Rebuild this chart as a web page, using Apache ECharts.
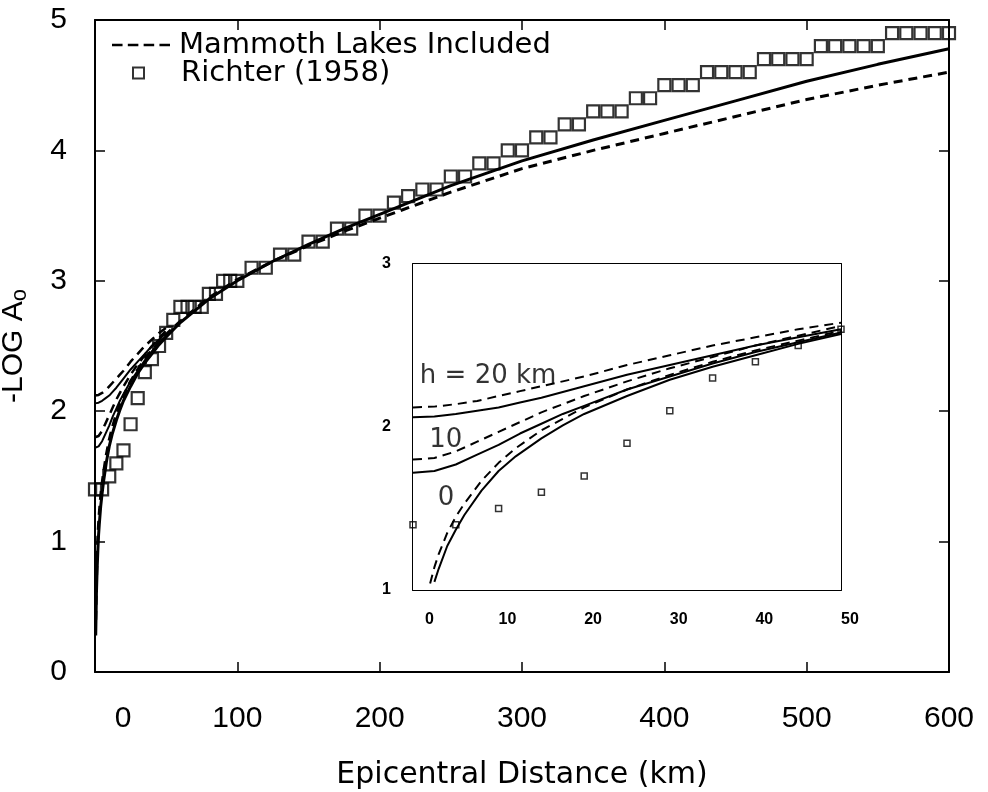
<!DOCTYPE html>
<html>
<head>
<meta charset="utf-8">
<script src="https://cdn.jsdelivr.net/npm/echarts@6/dist/echarts.min.js"></script>
<style>html,body{margin:0;padding:0;background:#fff;}#c{width:988px;height:792px;}</style>
</head>
<body>
<div id="c"></div>
<script>
// ---- Data ----
const richterDist = [0,5,10,15,20,25,30,35,40,45,50,55,60,65,70,75,80,85,90,95,100,110,120,130,140,150,160,170,180,190,200,210,220,230,240,250,260,270,280,290,300,310,320,330,340,350,360,370,380,390,400,410,420,430,440,450,460,470,480,490,500,510,520,530,540,550,560,570,580,590,600];
const richterVal  = [1.4,1.4,1.5,1.6,1.7,1.9,2.1,2.3,2.4,2.5,2.6,2.7,2.8,2.8,2.8,2.8,2.9,2.9,3.0,3.0,3.0,3.1,3.1,3.2,3.2,3.3,3.3,3.4,3.4,3.5,3.5,3.6,3.65,3.7,3.7,3.8,3.8,3.9,3.9,4.0,4.0,4.1,4.1,4.2,4.2,4.3,4.3,4.3,4.4,4.4,4.5,4.5,4.5,4.6,4.6,4.6,4.6,4.7,4.7,4.7,4.7,4.8,4.8,4.8,4.8,4.8,4.9,4.9,4.9,4.9,4.9];

// h = 0 km curves (full range)
const farDist   = [0.5,1,1.5,2,2.5,3,4,5,6,8,10,12,15,17.5,20,25,30,35,40,45,50,60,70,80,100,125,150,175,200,250,300,350,400,450,500,550,600];
const solidH0   = [0.28,0.60,0.79,0.93,1.05,1.13,1.27,1.37,1.46,1.61,1.73,1.82,1.93,2.01,2.08,2.19,2.29,2.37,2.44,2.51,2.57,2.68,2.77,2.86,3.00,3.15,3.28,3.40,3.51,3.73,3.92,4.08,4.23,4.38,4.53,4.66,4.78];
const dashedH0  = [0.40,0.70,0.90,1.04,1.14,1.22,1.35,1.45,1.53,1.67,1.78,1.87,1.98,2.05,2.12,2.23,2.32,2.40,2.47,2.53,2.59,2.69,2.78,2.87,3.01,3.15,3.27,3.38,3.48,3.68,3.86,4.00,4.13,4.26,4.39,4.50,4.60];

// h = 10 and 20 km curves (near field)
const nearDist  = [0,2.5,5,7.5,10,12.5,15,17.5,20,25,30,35,40,45,50];
const solidH10  = [1.72,1.73,1.77,1.83,1.89,1.96,2.02,2.08,2.13,2.23,2.31,2.39,2.46,2.52,2.58];
const dashedH10 = [1.80,1.81,1.85,1.91,1.97,2.03,2.09,2.14,2.19,2.28,2.36,2.43,2.50,2.56,2.62];
const solidH20  = [2.06,2.065,2.08,2.10,2.12,2.15,2.18,2.215,2.25,2.32,2.38,2.44,2.50,2.55,2.60];
const dashedH20 = [2.12,2.125,2.14,2.16,2.19,2.22,2.25,2.28,2.31,2.38,2.44,2.50,2.55,2.60,2.64];

// inset annotation labels: [distance, value, text]
const insetLabels = [[0.8,2.31,'h = 20 km'],[1.9,1.92,'10'],[2.9,1.56,'0']];

// ---- helpers ----
const zip = (xs, ys) => xs.map((x, i) => [x, ys[i]]);
const insetFilter = pts => pts.filter(p => p[0] <= 50 && p[1] >= 1.04);

const chart = echarts.init(document.getElementById('c'), null, {renderer: 'canvas'});
const FONT = 'Liberation Sans';
const BLACK = '#000';

function lineSeries(name, data, dashed, width, xi, yi, z) {
  return {
    name: name, type: 'line', data: data, xAxisIndex: xi, yAxisIndex: yi,
    showSymbol: false, symbol: 'none', smooth: false,
    itemStyle: {color: BLACK},
    lineStyle: {color: BLACK, width: width, type: dashed ? [9, 6] : 'solid'},
    z: z || 3, silent: true, animation: false
  };
}

const frameAxis = (extra) => Object.assign({
  type: 'value', splitLine: {show: false},
  axisLine: {show: true, onZero: false, lineStyle: {color: BLACK, width: 2}},
  axisTick: {show: true, inside: true, length: 10, lineStyle: {color: BLACK, width: 1.5}},
}, extra);

const insetTick = {show: true, inside: true, length: 9, lineStyle: {color: BLACK, width: 1.5}};
const legendText = (pad) => ({fontFamily: 'DejaVu Sans', fontSize: 29, lineHeight: 30, color: BLACK,
  rich: {t: {fontFamily: 'DejaVu Sans', fontSize: 29, lineHeight: 30, color: BLACK, padding: [0, 0, 0, pad]}}});

const option = {
  backgroundColor: '#fff',
  animation: false,
  grid: [
    {left: 95, top: 20, width: 854, height: 652, containLabel: false, outerBoundsMode: 'none'},
    {left: 413, top: 264, width: 428, height: 326, containLabel: false, outerBoundsMode: 'none',
     show: true, backgroundColor: '#fff', borderWidth: 0, z: 5}
  ],
  legend: [
    {
      left: 112, top: 30, padding: 0, itemWidth: 58, itemHeight: 3, selectedMode: false,
      icon: 'path://M0,0H10V2.5H0Z M15,0H25V2.5H15Z M30,0H40V2.5H30Z M45,0H55V2.5H45Z',
      formatter: n => '{t|' + n + '}', textStyle: legendText(4),
      data: ['Mammoth Lakes Included']
    },
    {
      left: 132, top: 58, padding: 0, itemWidth: 11, itemHeight: 11, selectedMode: false, icon: 'rect',
      itemStyle: {color: 'rgba(255,255,255,0)', borderColor: BLACK, borderWidth: 2},
      formatter: n => '{t|' + n + '}', textStyle: legendText(32),
      data: ['Richter (1958)']
    }
  ],
  xAxis: [
    frameAxis({gridIndex: 0, min: 0, max: 600, interval: 100, position: 'bottom',
      name: 'Epicentral Distance (km)', nameLocation: 'middle', nameGap: 88,
      nameTextStyle: {fontFamily: 'DejaVu Sans', fontSize: 30, color: BLACK},
      axisLabel: {show: true, margin: 32, fontFamily: FONT, fontSize: 30, color: BLACK,
        formatter: v => v === 0 ? '{z|0}' : String(v),
        rich: {z: {fontFamily: FONT, fontSize: 30, color: BLACK, padding: [0, 0, 0, 56]}}}}),
    frameAxis({gridIndex: 0, min: 0, max: 600, interval: 100, position: 'top', axisLabel: {show: false}}),
    frameAxis({gridIndex: 1, min: 0, max: 50, interval: 10, position: 'bottom', axisTick: insetTick,
      axisLabel: {show: true, margin: 22, fontFamily: FONT, fontSize: 16, fontWeight: 'bold', color: BLACK, align: 'left',
        formatter: v => v === 0 ? '{z|0}' : String(v),
        rich: {z: {fontFamily: FONT, fontSize: 16, fontWeight: 'bold', color: BLACK, padding: [0, 0, 0, 12]}}}}),
    frameAxis({gridIndex: 1, min: 0, max: 50, interval: 10, position: 'top', axisLabel: {show: false}, axisTick: insetTick})
  ],
  yAxis: [
    frameAxis({gridIndex: 0, min: 0, max: 5, interval: 1, position: 'left',
      name: '-LOG A{sub|o}', nameLocation: 'middle', nameGap: 64,
      nameTextStyle: {fontFamily: FONT, fontSize: 30, color: BLACK,
        rich: {sub: {fontFamily: FONT, fontSize: 22, color: BLACK, verticalAlign: 'bottom', padding: [12, 0, 0, 0]}}},
      axisLabel: {show: true, margin: 28, fontFamily: FONT, fontSize: 30, color: BLACK}}),
    frameAxis({gridIndex: 0, min: 0, max: 5, interval: 1, position: 'right', axisLabel: {show: false}}),
    frameAxis({gridIndex: 1, min: 1, max: 3, interval: 1, position: 'left', axisTick: insetTick,
      axisLabel: {show: true, margin: 22, fontFamily: FONT, fontSize: 16, fontWeight: 'bold', color: BLACK}}),
    frameAxis({gridIndex: 1, min: 1, max: 3, interval: 1, position: 'right', axisLabel: {show: false}, axisTick: insetTick})
  ],
  series: [
    // main plot
    lineSeries('Hutton-Boore h0', zip(farDist, solidH0), false, 3, 0, 0),
    lineSeries('Mammoth Lakes Included', zip(farDist, dashedH0), true, 3, 0, 0),
    lineSeries('main solid h10', zip(nearDist, solidH10), false, 2, 0, 0),
    lineSeries('main dashed h10', zip(nearDist, dashedH10), true, 2.5, 0, 0),
    lineSeries('main solid h20', zip(nearDist, solidH20), false, 2, 0, 0),
    lineSeries('main dashed h20', zip(nearDist, dashedH20), true, 2.5, 0, 0),
    {
      name: 'Richter (1958)', type: 'scatter', xAxisIndex: 0, yAxisIndex: 0,
      data: zip(richterDist, richterVal), symbol: 'rect', symbolSize: 12,
      itemStyle: {color: 'rgba(255,255,255,0)', borderColor: BLACK, borderWidth: 2.2},
      z: 4, silent: true, animation: false
    },
    // inset
    lineSeries('inset solid h0', insetFilter(zip(farDist, solidH0)), false, 2, 2, 2, 10),
    lineSeries('inset dashed h0', insetFilter(zip(farDist, dashedH0)), true, 2, 2, 2, 10),
    lineSeries('inset solid h10', zip(nearDist, solidH10), false, 2, 2, 2, 10),
    lineSeries('inset dashed h10', zip(nearDist, dashedH10), true, 2, 2, 2, 10),
    lineSeries('inset solid h20', zip(nearDist, solidH20), false, 2, 2, 2, 10),
    lineSeries('inset dashed h20', zip(nearDist, dashedH20), true, 2, 2, 2, 10),
    {
      name: 'inset Richter', type: 'scatter', xAxisIndex: 2, yAxisIndex: 2,
      data: zip(richterDist, richterVal).filter(p => p[0] <= 50), symbol: 'rect', symbolSize: 6,
      itemStyle: {color: 'rgba(255,255,255,0)', borderColor: BLACK, borderWidth: 1.5},
      z: 11, silent: true, animation: false
    },
    {
      name: 'inset labels', type: 'scatter', xAxisIndex: 2, yAxisIndex: 2,
      data: insetLabels, symbolSize: 0, z: 12, silent: true, animation: false,
      label: {show: true, position: 'inside', align: 'left', verticalAlign: 'middle',
        formatter: p => p.value[2], fontFamily: 'DejaVu Sans', fontSize: 26, color: BLACK}
    }
  ]
};
chart.setOption(option);
</script>
</body>
</html>
